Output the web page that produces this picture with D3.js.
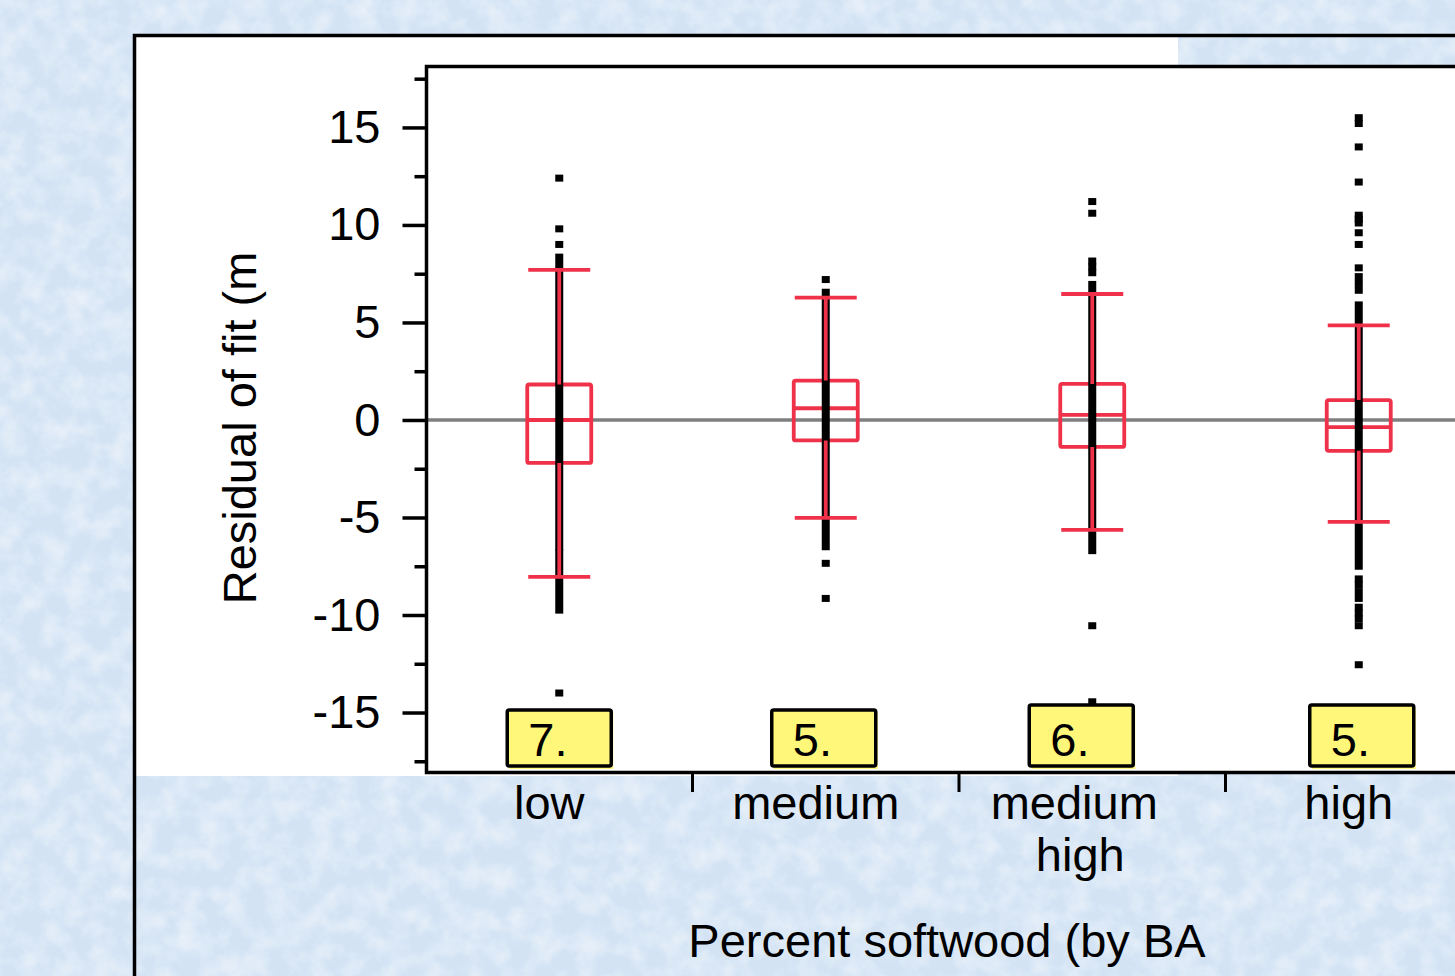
<!DOCTYPE html>
<html>
<head>
<meta charset="utf-8">
<script src="https://cdn.jsdelivr.net/npm/d3@7"></script>
<style>
  html, body { margin: 0; padding: 0; background: #d6e5f5; overflow: hidden; }
  svg { display: block; font-family: "Liberation Sans", Arial, sans-serif; }
</style>
</head>
<body>
<svg id="chart"></svg>
<script>
// residuals by softwood class
const categories = ["low", "medium", "medium high", "high"];
const q1 = [-2.2, -1.05, -1.38, -1.58];
const median = [0.0, 0.6, 0.26, -0.37];
const q3 = [1.82, 2.02, 1.85, 1.02];
const whiskerLow = [-8.05, -5.02, -5.64, -5.22];
const whiskerHigh = [7.7, 6.27, 6.46, 4.85];
// runs of points so dense they form a solid column
const denseRuns = [
    [[-6.5, 8.35], [-9.75, -6.8]],
    [[-6.5, 6.55]],
    [[-6.7, 6.95]],
    [[-7.5, 5.9]]
];
const outliers = [
    [12.4, 9.8, 9.0, -14.0],
    [7.2, -7.35, -9.15],
    [11.2, 10.6, 8.15, 7.85, 7.55, -10.55, -14.45],
    [15.5, 15.2, 14.0, 12.2, 10.5, 10.3, 10.1, 9.6, 9.0, 7.8, 7.35, 7.0, 6.65,
     -8.15, -8.45, -8.8, -9.15, -9.6, -9.9, -10.2, -10.55, -12.55]
];
const countLabels = ["7.", "5.", "6.", "5."];
const yTicks = [-15, -10, -5, 0, 5, 10, 15];
const yMinorTicks = [-17.5, -12.5, -7.5, -2.5, 2.5, 7.5, 12.5, 17.5];
const xTitle = "Percent softwood (by BA";
const yTitle = "Residual of fit (m";

const width = 1455, height = 976;
const red = "#ef3249";
const fontSize = 47;
// small per-box shifts of the yellow note boxes
const noteDx = [0, -2, -11, 3];
const noteTop = [710, 710, 705, 705];

const svg = d3.select("#chart")
    .attr("width", width)
    .attr("height", height);

const defs = svg.append("defs");
const tex = defs.append("filter")
    .attr("id", "tex")
    .attr("x", 0).attr("y", 0).attr("width", "100%").attr("height", "100%");
tex.append("feTurbulence")
    .attr("type", "fractalNoise")
    .attr("baseFrequency", "0.045")
    .attr("numOctaves", 4)
    .attr("seed", 7);
tex.append("feColorMatrix")
    .attr("type", "matrix")
    .attr("values", "0 0 0 0 1  0 0 0 0 1  0 0 0 0 1  0.9 0 0 0 -0.32");

// textured blue background
svg.append("rect").attr("width", width).attr("height", height).attr("fill", "#d3e3f4");
svg.append("rect").attr("width", width).attr("height", height).attr("fill", "#fff")
    .attr("filter", "url(#tex)");

const x = d3.scaleBand().domain(categories).range([426, 1492]).padding(0);
const y = d3.scaleLinear().domain([-18.05, 18.15]).range([772, 66]);
const cx = d => x(d) + x.bandwidth() / 2;

// white panels
svg.append("rect").attr("x", 136).attr("y", 37).attr("width", 1178 - 136).attr("height", 776 - 37)
    .attr("fill", "#fff");
svg.append("rect").attr("x", 426).attr("y", y.range()[1]).attr("width", width - 426)
    .attr("height", y.range()[0] - y.range()[1]).attr("fill", "#fff");

// outer frame
svg.append("path")
    .attr("d", `M134.5,${height}V35.5H${width}`)
    .attr("fill", "none").attr("stroke", "#000").attr("stroke-width", 3.5);

// zero line
svg.append("line")
    .attr("x1", 426).attr("x2", width)
    .attr("y1", y(0)).attr("y2", y(0))
    .attr("stroke", "#7f7f7f").attr("stroke-width", 3.5);

const groups = svg.append("g")
    .selectAll("g")
    .data(categories)
    .join("g");

const boxW = 64;

// box and median
groups.append("rect")
    .attr("x", d => cx(d) - boxW / 2)
    .attr("y", (d, i) => y(q3[i]))
    .attr("width", boxW)
    .attr("height", (d, i) => y(q1[i]) - y(q3[i]))
    .attr("rx", 2)
    .attr("fill", "none").attr("stroke", red).attr("stroke-width", 3.8);
groups.append("line")
    .attr("x1", d => cx(d) - boxW / 2).attr("x2", d => cx(d) + boxW / 2)
    .attr("y1", (d, i) => y(median[i])).attr("y2", (d, i) => y(median[i]))
    .attr("stroke", red).attr("stroke-width", 3.8);

// points
groups.selectAll(".run")
    .data((d, i) => denseRuns[i].map(r => ({ c: d, lo: r[0], hi: r[1] })))
    .join("rect")
    .attr("class", "run")
    .attr("x", d => cx(d.c) - 4)
    .attr("y", d => y(d.hi) - 3.5)
    .attr("width", 8)
    .attr("height", d => y(d.lo) - y(d.hi) + 7)
    .attr("fill", "#000");
groups.selectAll(".pt")
    .data((d, i) => outliers[i].map(v => ({ c: d, v })))
    .join("rect")
    .attr("class", "pt")
    .attr("x", d => cx(d.c) - 4)
    .attr("y", d => y(d.v) - 3.5)
    .attr("width", 8)
    .attr("height", 7)
    .attr("fill", "#000");

// whiskers
groups.append("path")
    .attr("d", (d, i) => {
        const c = cx(d);
        return `M${c},${y(q3[i])}V${y(whiskerHigh[i])}M${c - 31},${y(whiskerHigh[i])}H${c + 31}` +
            `M${c},${y(q1[i])}V${y(whiskerLow[i])}M${c - 31},${y(whiskerLow[i])}H${c + 31}`;
    })
    .attr("fill", "none").attr("stroke", red).attr("stroke-width", 3.8);

// yellow count notes
const notes = groups.append("g")
    .attr("transform", (d, i) => `translate(${cx(d) - 52 + noteDx[i]},${noteTop[i]})`);
notes.append("rect")
    .attr("x", 2).attr("y", 3).attr("width", 104)
    .attr("height", (d, i) => 766 - noteTop[i])
    .attr("fill", "#fff77a");
notes.append("rect")
    .attr("width", 104)
    .attr("height", (d, i) => 766 - noteTop[i])
    .attr("rx", 2)
    .attr("fill", "#fff77a").attr("stroke", "#000").attr("stroke-width", 3.5);
notes.append("text")
    .attr("x", 21).attr("y", (d, i) => 766 - noteTop[i] - 10)
    .attr("font-size", fontSize)
    .text((d, i) => countLabels[i]);

// y axis
const yAxis = svg.append("g")
    .attr("transform", "translate(426.5,0)")
    .call(d3.axisLeft(y).tickValues(yTicks).tickSize(24).tickPadding(22).tickFormat(d3.format("d")));
const yMinor = svg.append("g")
    .attr("transform", "translate(426.5,0)")
    .call(d3.axisLeft(y).tickValues(yMinorTicks).tickSize(12).tickFormat(""));
[yAxis, yMinor].forEach(g => {
    g.select(".domain").remove();
    g.selectAll(".tick line").attr("stroke", "#000").attr("stroke-width", 3.5);
});
yAxis.selectAll(".tick text")
    .attr("font-size", fontSize)
    .attr("font-family", "Liberation Sans, Arial, sans-serif")
    .attr("fill", "#000")
    .text(d => d < 0 ? "-" + Math.abs(d) : d);

// plot frame: left, top and bottom
svg.append("path")
    .attr("d", `M${width},66.5H426.5V772.5H${width}`)
    .attr("fill", "none").attr("stroke", "#000").attr("stroke-width", 3.5);

// category separators
svg.append("g")
    .selectAll("line")
    .data(categories.slice(1))
    .join("line")
    .attr("x1", d => x(d)).attr("x2", d => x(d))
    .attr("y1", 772).attr("y2", 792)
    .attr("stroke", "#000").attr("stroke-width", 3);

// category labels, wrapped at spaces
svg.append("g")
    .selectAll("text")
    .data(categories)
    .join("text")
    .attr("text-anchor", "middle")
    .attr("font-size", fontSize)
    .attr("fill", "#000")
    .each(function (d) {
        const t = d3.select(this);
        const wrapped = d.includes(" ");
        d.split(" ").forEach((w, k) => {
            t.append("tspan")
                .attr("x", cx(d) - (wrapped ? (k === 0 ? 18 : 12) : 10))
                .attr("y", 819 + k * 52)
                .text(w);
        });
    });

// titles
svg.append("text")
    .attr("x", 947).attr("y", 957)
    .attr("text-anchor", "middle")
    .attr("font-size", fontSize)
    .text(xTitle);
svg.append("text")
    .attr("transform", "translate(256,428) rotate(-90)")
    .attr("text-anchor", "middle")
    .attr("font-size", fontSize)
    .text(yTitle);
</script>
</body>
</html>
